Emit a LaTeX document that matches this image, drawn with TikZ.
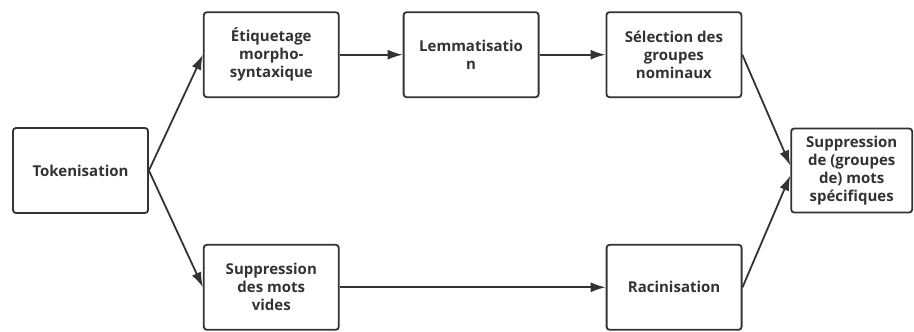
\documentclass[tikz,border=0pt]{standalone}
\usepackage{fontspec}
\setmainfont{Open Sans}
\usetikzlibrary{positioning,arrows.meta}
\definecolor{ink}{HTML}{333333}
\tikzstyle{stepbox}=[rectangle,
	rounded corners=3pt,
	line width=1.8pt,
	draw=ink,
	fill=white,
	text=ink,
	align=center,
	font=\bfseries\fontsize{15}{18}\selectfont,
	minimum width=135pt,
	minimum height=85pt]
\tikzstyle{endbox}=[stepbox,
	minimum width=121pt,
	minimum height=84pt]
\tikzstyle{flow}=[line width=1.8pt,
	draw=ink,
	-{Latex[length=15pt,width=10pt]}]

\begin{document}
\begin{tikzpicture}
					\useasboundingbox (0,0) rectangle (914pt,332pt);
					\node (tok) [stepbox] at (80.5pt,161.5pt) {Tokenisation};
					\node (etiq) [stepbox, above right=29pt and 54pt of tok] {Étiquetage\\morpho-\\syntaxique};
					\draw[flow] (tok.east) -- (etiq.west);
					\node (lemma) [stepbox, right=63pt of etiq] {Lemmatisatio\\n};
					\draw[flow] (etiq) -- (lemma);
					\node (selgn) [stepbox, right=66pt of lemma] {Sélection des\\groupes\\nominaux};
					\draw[flow] (lemma) -- (selgn);

					\node (vides) [stepbox, below right=30pt and 54pt of tok] {Suppression\\des mots\\vides};
					\draw[flow] (tok.east) -- (vides.west);
					\node (racin) [stepbox, right=266pt of vides] {Racinisation};
					\draw[flow] (vides) -- (racin);

					\path (selgn.east |- tok.east) ++(48pt,0) node (spec) [endbox, anchor=west] {Suppression\\de (groupes\\de) mots\\spécifiques};
					\draw[flow] (selgn.east) -- ([yshift=5pt]spec.west);
					\draw[flow] (racin.east) -- ([yshift=-5pt]spec.west);
				\end{tikzpicture}
\end{document}
